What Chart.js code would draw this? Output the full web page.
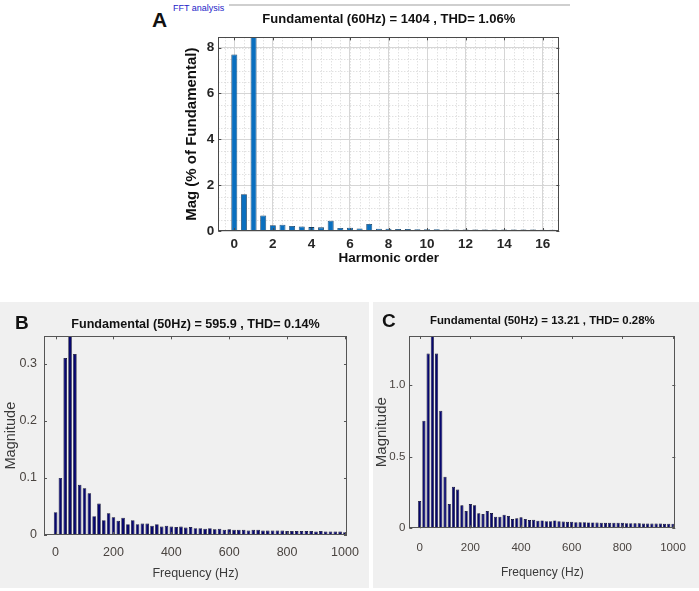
<!DOCTYPE html>
<html>
<head>
<meta charset="utf-8">
<script src="https://cdn.jsdelivr.net/npm/chart.js@4.4.1/dist/chart.umd.min.js"></script>
<style>
  html, body { margin: 0; padding: 0; background: #ffffff; }
  body { width: 699px; height: 591px; position: relative; overflow: hidden; font-family: "Liberation Sans", Arial, sans-serif; }
  .abs { position: absolute; }
  .panel { position: absolute; background: #f0f0f0; }
  .letter { position: absolute; font-weight: bold; color: #111; line-height: 1; }
  canvas { position: absolute; }
</style>
</head>
<body>
<div class="abs" style="left:229px; top:4px; width:341px; height:2px; background:#cfcfcf;"></div>
<div class="abs" style="left:173px; top:4px; font-size:9px; color:#2424c8; line-height:1;">FFT analysis</div>
<div class="letter" style="left:152px; top:9px; font-size:21px;">A</div>

<div class="panel" style="left:0; top:302px; width:369px; height:286px;"></div>
<div class="panel" style="left:373px; top:302px; width:326px; height:286px;"></div>

<canvas id="chartA" style="left:150px; top:0px;"></canvas>
<canvas id="chartB" style="left:0px; top:302px;"></canvas>
<canvas id="chartC" style="left:373px; top:302px;"></canvas>

<div class="letter" style="left:15px; top:313px; font-size:19px;">B</div>
<div class="letter" style="left:382px; top:311px; font-size:19px;">C</div>

<script>
// Panel A: harmonic spectrum, % of fundamental
const harmonicOrder = [0, 0.5, 1, 1.5, 2, 2.5, 3, 3.5, 4, 4.5, 5, 5.5, 6, 6.5, 7, 7.5, 8, 8.5,
  9, 9.5, 10, 10.5, 11, 11.5, 12, 12.5, 13, 13.5, 14, 14.5, 15, 15.5, 16, 16.5];
const magA = [7.7, 1.6, 100, 0.68, 0.25, 0.27, 0.22, 0.2, 0.17, 0.16, 0.45, 0.13, 0.14, 0.11, 0.31, 0.1, 0.1, 0.09,
  0.09, 0.08, 0.08, 0.08, 0.06, 0.07, 0.07, 0.07, 0.07, 0.06, 0.06, 0.06, 0.06, 0.06, 0.05, 0.05];
const xTicksA = [0, 2, 4, 6, 8, 10, 12, 14, 16];
const yTicksA = [0, 2, 4, 6, 8];

// Panels B and C: frequency bins (Hz)
const freqHz = [0, 16.7, 33.3, 50, 66.7, 83.3, 100, 116.7, 133.3, 150, 166.7, 183.3, 200, 216.7, 233.3, 250,
  266.7, 283.3, 300, 316.7, 333.3, 350, 366.7, 383.3, 400, 416.7, 433.3, 450, 466.7, 483.3, 500, 516.7,
  533.3, 550, 566.7, 583.3, 600, 616.7, 633.3, 650, 666.7, 683.3, 700, 716.7, 733.3, 750, 766.7, 783.3,
  800, 816.7, 833.3, 850, 866.7, 883.3, 900, 916.7, 933.3, 950, 966.7, 983.3, 1000];
const magB = [0.04, 0.1, 0.31, 595.9, 0.317, 0.088, 0.082, 0.073, 0.033, 0.055, 0.026, 0.038, 0.031, 0.025, 0.03, 0.019,
  0.026, 0.019, 0.02, 0.02, 0.016, 0.019, 0.015, 0.016, 0.015, 0.014, 0.015, 0.013, 0.014, 0.012, 0.012, 0.011,
  0.012, 0.01, 0.011, 0.009, 0.01, 0.009, 0.009, 0.009, 0.008, 0.009, 0.009, 0.008, 0.008, 0.008, 0.008, 0.008,
  0.007, 0.007, 0.007, 0.007, 0.007, 0.007, 0.006, 0.007, 0.006, 0.006, 0.006, 0.006, 0.005];
const magC = [0.19, 0.75, 1.22, 13.21, 1.22, 0.82, 0.36, 0.17, 0.29, 0.27, 0.16, 0.12, 0.17, 0.16, 0.105, 0.1,
  0.12, 0.107, 0.08, 0.08, 0.095, 0.086, 0.065, 0.07, 0.077, 0.065, 0.058, 0.06, 0.053, 0.055, 0.05, 0.05,
  0.055, 0.05, 0.047, 0.046, 0.046, 0.043, 0.042, 0.043, 0.041, 0.041, 0.04, 0.039, 0.039, 0.039, 0.038, 0.038,
  0.038, 0.036, 0.036, 0.035, 0.035, 0.034, 0.034, 0.034, 0.033, 0.033, 0.032, 0.031, 0.031];
const xTicksBC = [0, 200, 400, 600, 800, 1000];
const yTicksB = [0, 0.1, 0.2, 0.3];
const yTicksC = [0, 0.5, 1.0];

const FONT = '"Liberation Sans", Arial, sans-serif';

function toPoints(xs, ys) {
  return xs.map((x, i) => ({ x: x, y: ys[i] }));
}

function setTicks(list) {
  return scale => { scale.ticks = list.map(v => ({ value: v })); };
}

// dotted minor grid (panel A)
const minorGrid = {
  id: 'minorGrid',
  beforeDatasetsDraw(chart, args, opts) {
    if (!opts.enabled) return;
    const { ctx, chartArea: a, scales: { x, y } } = chart;
    ctx.save();
    ctx.strokeStyle = opts.color;
    ctx.lineWidth = 1;
    ctx.setLineDash([1, 2]);
    ctx.beginPath();
    for (let v = Math.ceil(x.min / opts.xStep) * opts.xStep; v <= x.max; v += opts.xStep) {
      const px = Math.round(x.getPixelForValue(v)) + 0.5;
      ctx.moveTo(px, a.top); ctx.lineTo(px, a.bottom);
    }
    for (let v = opts.yStep; v <= y.max; v += opts.yStep) {
      const py = Math.round(y.getPixelForValue(v)) + 0.5;
      ctx.moveTo(a.left, py); ctx.lineTo(a.right, py);
    }
    ctx.stroke();
    ctx.restore();
  }
};

// axes box with inward ticks on all sides
const frameTicks = {
  id: 'frameTicks',
  afterDatasetsDraw(chart, args, opts) {
    const { ctx, chartArea: a, scales: { x, y } } = chart;
    ctx.save();
    ctx.strokeStyle = opts.color;
    ctx.lineWidth = 1;
    ctx.strokeRect(Math.round(a.left) + 0.5, Math.round(a.top) + 0.5,
      Math.round(a.width) - 1, Math.round(a.height) - 1);
    const len = opts.tickLen;
    ctx.beginPath();
    x.ticks.forEach(t => {
      const px = Math.round(x.getPixelForValue(t.value)) + 0.5;
      ctx.moveTo(px, a.bottom); ctx.lineTo(px, a.bottom - len);
      ctx.moveTo(px, a.top); ctx.lineTo(px, a.top + len);
    });
    y.ticks.forEach(t => {
      const py = Math.round(y.getPixelForValue(t.value)) + 0.5;
      ctx.moveTo(a.left, py); ctx.lineTo(a.left + len, py);
      ctx.moveTo(a.right, py); ctx.lineTo(a.right - len, py);
    });
    ctx.stroke();
    ctx.restore();
  }
};

function makeChart(id, w, h, cfg) {
  const canvas = document.getElementById(id);
  canvas.width = w;
  canvas.height = h;
  canvas.style.width = w + 'px';
  canvas.style.height = h + 'px';
  return new Chart(canvas.getContext('2d'), {
    type: 'bar',
    data: {
      datasets: [{
        data: toPoints(cfg.xs, cfg.ys),
        backgroundColor: cfg.fill,
        borderColor: cfg.edge,
        borderWidth: cfg.edgeWidth,
        categoryPercentage: 1,
        barPercentage: cfg.barPct
      }]
    },
    plugins: [minorGrid, frameTicks],
    options: {
      responsive: false,
      animation: false,
      events: [],
      layout: { padding: { left: 0, right: cfg.padRight, top: 0, bottom: 0 } },
      plugins: {
        legend: { display: false },
        tooltip: { enabled: false },
        title: {
          display: true,
          fullSize: false,
          text: cfg.title,
          color: '#111',
          font: { family: FONT, size: cfg.titleSize, weight: 'bold' },
          padding: cfg.titlePad
        },
        minorGrid: cfg.minor,
        frameTicks: { color: cfg.frame, tickLen: cfg.tickLen }
      },
      scales: {
        x: {
          type: 'linear',
          min: cfg.xMin,
          max: cfg.xMax,
          offset: false,
          afterBuildTicks: setTicks(cfg.xTicks),
          afterFit: s => { s.height = cfg.xAxisH; },
          grid: { display: cfg.grid, offset: false, color: '#d6d6d6', drawTicks: false },
          border: { display: false },
          ticks: {
            color: cfg.tickColor,
            padding: cfg.xTickPad,
            maxRotation: 0,
            font: { family: FONT, size: cfg.tickSize, weight: cfg.tickWeight },
            callback: v => String(v)
          },
          title: {
            display: true,
            text: cfg.xTitle,
            color: cfg.labelColor,
            font: { family: FONT, size: cfg.xTitleSize, weight: cfg.tickWeight },
            padding: { top: 0, bottom: cfg.xTitlePad }
          }
        },
        y: {
          min: 0,
          max: cfg.yMax,
          afterBuildTicks: setTicks(cfg.yTicks),
          afterFit: s => { s.width = cfg.yAxisW; },
          grid: { display: cfg.grid, color: '#d6d6d6', drawTicks: false },
          border: { display: false },
          ticks: {
            color: cfg.tickColor,
            padding: cfg.yTickPad,
            font: { family: FONT, size: cfg.tickSize, weight: cfg.tickWeight },
            callback: cfg.yFmt
          },
          title: {
            display: true,
            text: cfg.yTitle,
            color: cfg.labelColor,
            font: { family: FONT, size: cfg.yTitleSize, weight: cfg.tickWeight },
            padding: { top: cfg.yTitlePad, bottom: 0 }
          }
        }
      }
    }
  });
}

makeChart('chartA', 420, 270, {
  xs: harmonicOrder, ys: magA,
  fill: '#0a6fbf', edge: '#163c5e', edgeWidth: 0.8, barPct: 0.62,
  title: 'Fundamental (60Hz) = 1404 , THD= 1.06%', titleSize: 13,
  titlePad: { top: 12, bottom: 9.7 },
  padRight: 10.7,
  minor: { enabled: true, xStep: 0.5, yStep: 0.5, color: '#d4d4d4' },
  frame: '#4a4a4a', tickLen: 3,
  xMin: -0.83, xMax: 16.86, xTicks: xTicksA, xAxisH: 39, xTickPad: 5,
  yMax: 8.45, yTicks: yTicksA, yAxisW: 68.3, yTickPad: 4,
  grid: true,
  tickColor: '#262626', labelColor: '#111', tickSize: 13.5, tickWeight: 'bold',
  xTitle: 'Harmonic order', xTitleSize: 13.5, xTitlePad: 4,
  yTitle: 'Mag (% of Fundamental)', yTitleSize: 15, yTitlePad: 32.5,
  yFmt: v => String(v)
});

makeChart('chartB', 369, 286, {
  xs: freqHz, ys: magB,
  fill: '#07076e', edge: '#000022', edgeWidth: 0.7, barPct: 0.74,
  title: 'Fundamental (50Hz) = 595.9 , THD= 0.14%', titleSize: 12.6,
  titlePad: { top: 15.2, bottom: 4 },
  padRight: 17,
  minor: { enabled: false },
  frame: '#555555', tickLen: 3,
  xMin: -40, xMax: 1007, xTicks: xTicksBC, xAxisH: 53, xTickPad: 10,
  yMax: 0.348, yTicks: yTicksB, yAxisW: 44, yTickPad: 7,
  grid: false,
  tickColor: '#4a4440', labelColor: '#3a3a3a', tickSize: 12.5, tickWeight: 'normal',
  xTitle: 'Frequency (Hz)', xTitleSize: 12.5, xTitlePad: 7,
  yTitle: 'Magnitude', yTitleSize: 14.5, yTitlePad: 2,
  yFmt: v => (v === 0 ? '0' : v.toFixed(1))
});

makeChart('chartC', 326, 286, {
  xs: freqHz, ys: magC,
  fill: '#07076e', edge: '#000022', edgeWidth: 0.7, barPct: 0.75,
  title: 'Fundamental (50Hz) = 13.21 , THD= 0.28%', titleSize: 11.4,
  titlePad: { top: 12.5, bottom: 7.8 },
  padRight: 14.7,
  minor: { enabled: false },
  frame: '#555555', tickLen: 3,
  xMin: -41, xMax: 1009, xTicks: xTicksBC, xAxisH: 59.7, xTickPad: 13,
  yMax: 1.342, yTicks: yTicksC, yAxisW: 36.3, yTickPad: 4,
  grid: false,
  tickColor: '#4a4440', labelColor: '#3a3a3a', tickSize: 11.5, tickWeight: 'normal',
  xTitle: 'Frequency (Hz)', xTitleSize: 12, xTitlePad: 8,
  yTitle: 'Magnitude', yTitleSize: 15, yTitlePad: 0,
  yFmt: v => (v === 0 ? '0' : v.toFixed(1))
});
</script>
</body>
</html>
